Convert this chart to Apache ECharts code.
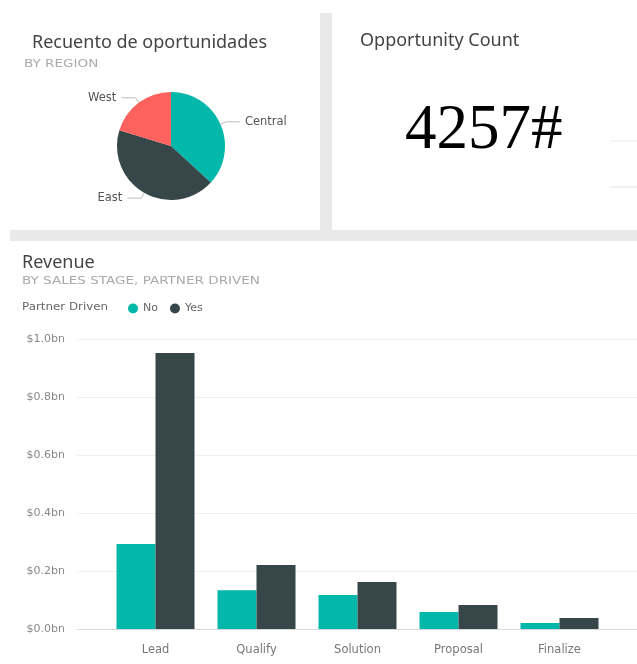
<!DOCTYPE html>
<html>
<head>
<meta charset="utf-8">
<script src="https://cdn.jsdelivr.net/npm/echarts@6/dist/echarts.min.js"></script>
<style>
  html, body { margin: 0; padding: 0; background: #fff; }
  #main { width: 637px; height: 664px; }
</style>
</head>
<body>
<div id="main"></div>
<script>
// region pie
var regions = ['Central', 'East', 'West'];
var regionCounts = [1567, 1826, 864];
var regionColors = ['#01B8AA', '#374649', '#FD625E'];

// card
var opportunityCount = '4257#';

// revenue by sales stage
var stages = ['Lead', 'Qualify', 'Solution', 'Proposal', 'Finalize'];
var revenueNo = [0.293e9, 0.134e9, 0.117e9, 0.059e9, 0.021e9];
var revenueYes = [0.952e9, 0.221e9, 0.162e9, 0.083e9, 0.038e9];
var partnerNames = ['No', 'Yes'];

var titleFont = 'Noto Sans';
var smallFont = 'DejaVu Sans';
var chart = echarts.init(document.getElementById('main'));

var pieData = regions.map(function (r, i) {
  return { name: r, value: regionCounts[i], itemStyle: { color: regionColors[i] } };
});

function bigTitle(txt, left, top) {
  return { text: txt, left: left, top: top, padding: 0,
    textStyle: { fontSize: 18, fontWeight: 'normal', color: '#444', fontFamily: titleFont } };
}
// spaced-out caps subtitle, stretched a bit horizontally
function subTitle(txt, x, y) {
  return { type: 'text', silent: true, x: x, y: y, scaleX: 1.23,
    style: { text: txt, fontSize: 11, fill: '#aaa', fontFamily: smallFont } };
}

chart.setOption({
  animation: false,
  textStyle: { fontFamily: smallFont },
  title: [
    bigTitle('Recuento de oportunidades', 32, 34),
    bigTitle('Opportunity Count', 360, 32),
    { text: opportunityCount, left: 405, top: 100, padding: 0,
      textStyle: { fontSize: 63, fontWeight: 'normal', color: '#000', fontFamily: 'Liberation Serif' } },
    bigTitle('Revenue', 22, 254)
  ],
  graphic: [
    { type: 'rect', silent: true, z: -10, shape: { x: 320, y: 13, width: 12, height: 218 }, style: { fill: '#e9e9e9' } },
    { type: 'rect', silent: true, z: -10, shape: { x: 10, y: 230, width: 627, height: 11 }, style: { fill: '#e9e9e9' } },
    { type: 'line', silent: true, shape: { x1: 610, y1: 141, x2: 637, y2: 141 }, style: { stroke: '#eaeaea', lineWidth: 1 } },
    { type: 'line', silent: true, shape: { x1: 610, y1: 187, x2: 637, y2: 187 }, style: { stroke: '#e4e4e4', lineWidth: 1 } },
    subTitle('BY REGION', 24, 59),
    subTitle('BY SALES STAGE, PARTNER DRIVEN', 22, 276),
    { type: 'text', silent: true, x: 22, y: 302, scaleX: 1.08,
      style: { text: 'Partner Driven', fontSize: 11, fill: '#666', fontFamily: smallFont } }
  ],
  legend: {
    data: partnerNames, left: 128, top: 303, padding: 0, icon: 'circle',
    itemWidth: 10, itemHeight: 10, itemGap: 12,
    textStyle: { fontSize: 11, color: '#666', fontFamily: smallFont }
  },
  grid: [
    { left: 77, right: 0, top: 339, bottom: 35 },
    { left: 105, right: 27, top: 339, bottom: 35 }
  ],
  xAxis: [
    { type: 'category', gridIndex: 0, data: [''],
      axisLine: { show: true, lineStyle: { color: '#d8d8d8' } },
      axisTick: { show: false }, axisLabel: { show: false } },
    { type: 'category', gridIndex: 1, data: stages,
      axisLine: { show: false }, axisTick: { show: false },
      axisLabel: { fontSize: 11.5, color: '#777', margin: 15, fontFamily: smallFont } }
  ],
  yAxis: [
    { type: 'value', gridIndex: 0, min: 0, max: 1e9, interval: 2e8,
      axisLine: { show: false }, axisTick: { show: false },
      splitLine: { lineStyle: { color: '#efefef' } },
      axisLabel: { fontSize: 11, color: '#888', margin: 12, fontFamily: smallFont,
        formatter: function (v) { return '$' + (v / 1e9).toFixed(1) + 'bn'; } } },
    { type: 'value', gridIndex: 1, min: 0, max: 1e9, show: false, splitLine: { show: false } }
  ],
  series: [
    {
      type: 'pie', center: [171, 146], radius: 54, startAngle: 90,
      data: pieData,
      label: { fontSize: 11.5, color: '#555', fontFamily: smallFont },
      labelLine: { length: 6, length2: 14, lineStyle: { color: '#bbb' } },
      emphasis: { disabled: true }
    },
    { name: 'No', type: 'bar', xAxisIndex: 1, yAxisIndex: 1, data: revenueNo,
      barWidth: 39, barGap: '0%', itemStyle: { color: '#01B8AA' } },
    { name: 'Yes', type: 'bar', xAxisIndex: 1, yAxisIndex: 1, data: revenueYes,
      barWidth: 39, barGap: '0%', itemStyle: { color: '#374649' } }
  ]
});
</script>
</body>
</html>
